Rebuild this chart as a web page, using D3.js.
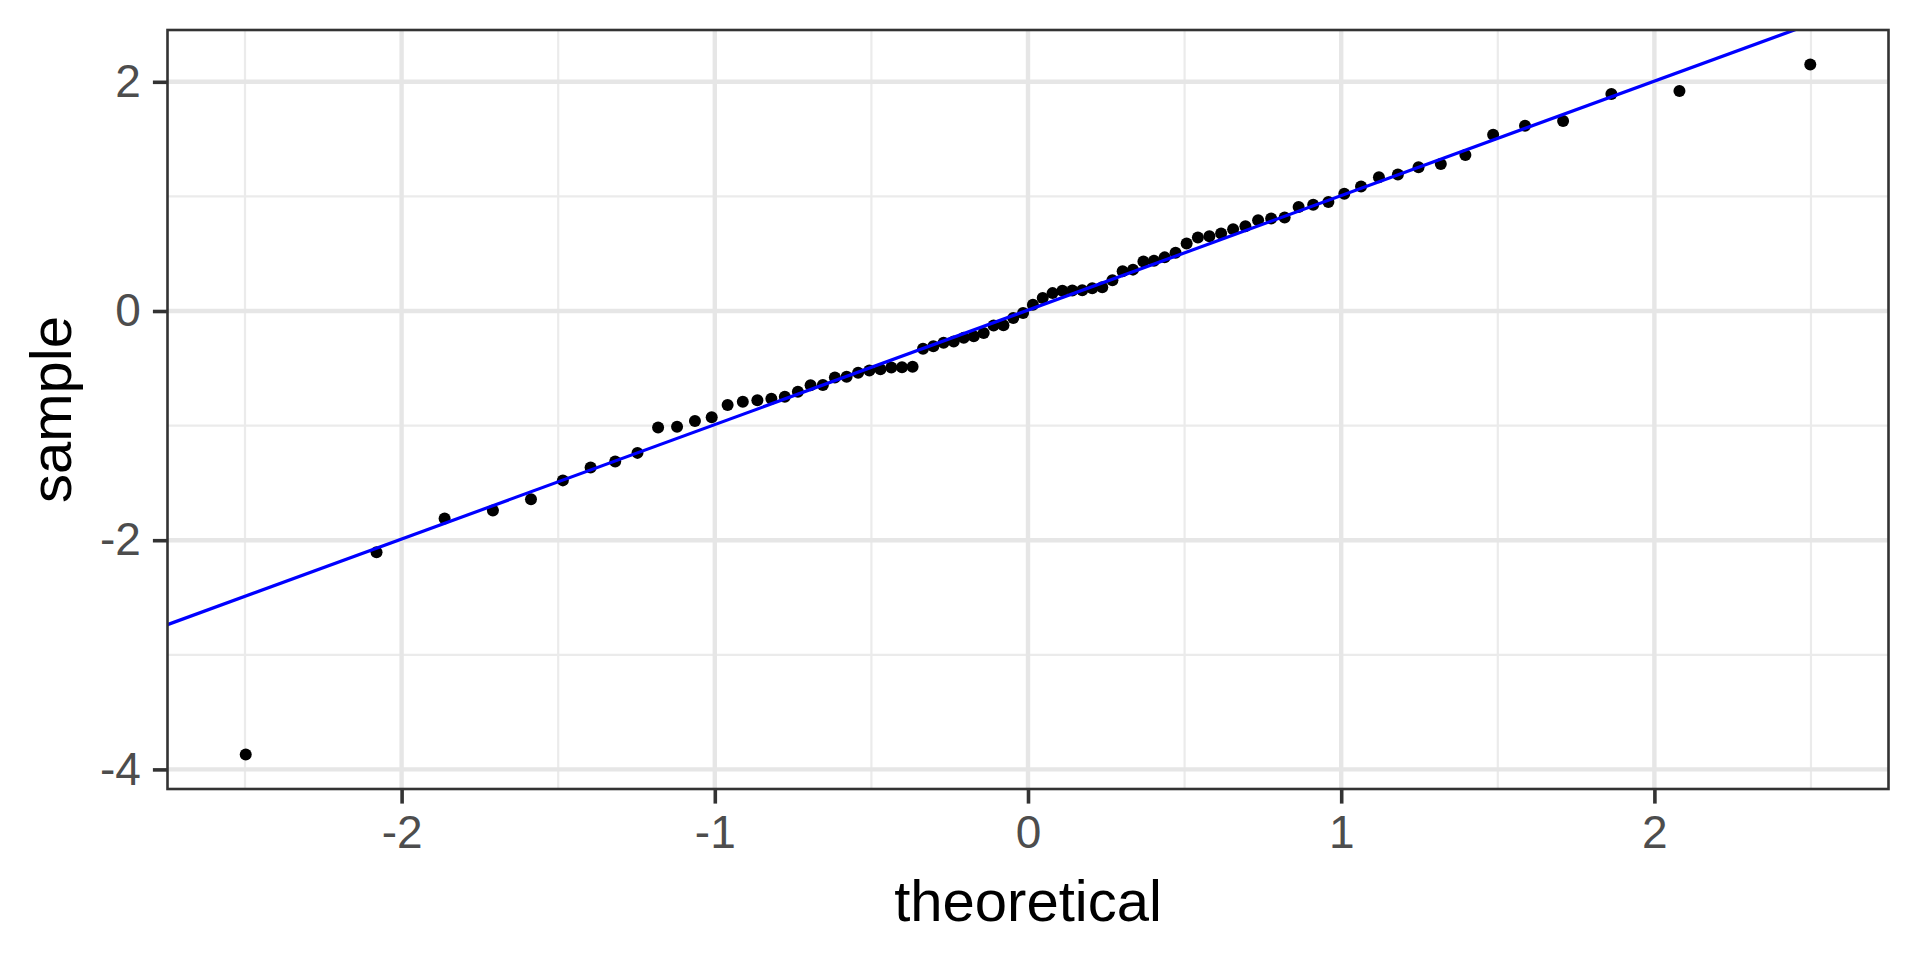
<!DOCTYPE html>
<html>
<head>
<meta charset="utf-8">
<script src="https://cdn.jsdelivr.net/npm/d3@7"></script>
<style>
  html, body { margin: 0; padding: 0; background: #ffffff; }
  svg { display: block; }
  text { font-family: "Liberation Sans", Arial, Helvetica, sans-serif; }
</style>
</head>
<body>
<svg id="chart" width="1920" height="960"></svg>
<script>
// ---- data ----
const theoretical = [-2.4977,-2.0800,-1.8627,-1.7085,-1.5869,-1.4851,-1.3965,-1.3180,-1.2469,-1.1810,
  -1.1205,-1.0634,-1.0099,-0.9591,-0.9106,-0.8641,-0.8194,-0.7764,-0.7347,-0.6942,
  -0.6549,-0.6166,-0.5791,-0.5424,-0.5065,-0.4712,-0.4364,-0.4023,-0.3685,-0.3352,
  -0.3022,-0.2695,-0.2371,-0.2051,-0.1732,-0.1415,-0.1098,-0.0784,-0.0470,-0.0157,
  0.0157,0.0470,0.0784,0.1098,0.1415,0.1732,0.2051,0.2371,0.2695,0.3022,
  0.3352,0.3685,0.4023,0.4364,0.4712,0.5065,0.5424,0.5791,0.6166,0.6549,
  0.6942,0.7347,0.7764,0.8194,0.8641,0.9106,0.9591,1.0099,1.0634,1.1205,
  1.1810,1.2469,1.3180,1.3965,1.4851,1.5869,1.7085,1.8627,2.0800,2.4977];
const sample = [-3.870,-2.105,-1.810,-1.740,-1.643,-1.478,-1.365,-1.313,-1.238,-1.016,
  -1.009,-0.960,-0.928,-0.821,-0.792,-0.778,-0.766,-0.749,-0.705,-0.648,
  -0.645,-0.581,-0.573,-0.538,-0.520,-0.509,-0.492,-0.490,-0.486,-0.330,
  -0.307,-0.278,-0.266,-0.234,-0.220,-0.191,-0.127,-0.125,-0.061,-0.017,
  0.055,0.113,0.156,0.176,0.179,0.182,0.199,0.208,0.268,0.346,
  0.361,0.432,0.439,0.468,0.508,0.590,0.642,0.653,0.676,0.714,
  0.740,0.792,0.807,0.815,0.907,0.928,0.951,1.023,1.087,1.167,
  1.191,1.254,1.283,1.362,1.538,1.616,1.659,1.893,1.919,2.151];
const lineIntercept = [0.008];
const lineSlope = [0.999];
const xTicks = [-2, -1, 0, 1, 2];
const xMinor = [-2.5, -1.5, -0.5, 0.5, 1.5, 2.5];
const yTicks = [-4, -2, 0, 2];
const yMinor = [-3, -1, 1];
const xTitle = "theoretical";
const yTitle = "sample";

// ---- layout ----
const panel = { left: 167.5, right: 1888.5, top: 30, bottom: 789 };
const svg = d3.select("#chart");

function expand(ext, m) { const r = ext[1] - ext[0]; return [ext[0] - r * m, ext[1] + r * m]; }
const x = d3.scaleLinear().domain(expand(d3.extent(theoretical), 0.05)).range([panel.left, panel.right]);
const y = d3.scaleLinear().domain(expand(d3.extent(sample), 0.05)).range([panel.bottom, panel.top]);

// panel background
svg.append("rect").attr("x", panel.left).attr("y", panel.top)
  .attr("width", panel.right - panel.left).attr("height", panel.bottom - panel.top)
  .attr("fill", "#ffffff");

const grid = svg.append("g");
// minor grid
grid.selectAll(".xmin").data(xMinor).enter().append("line")
  .attr("x1", d => x(d)).attr("x2", d => x(d)).attr("y1", panel.top).attr("y2", panel.bottom)
  .attr("stroke", "#ebebeb").attr("stroke-width", 2.2);
grid.selectAll(".ymin").data(yMinor).enter().append("line")
  .attr("y1", d => y(d)).attr("y2", d => y(d)).attr("x1", panel.left).attr("x2", panel.right)
  .attr("stroke", "#ebebeb").attr("stroke-width", 2.2);
// major grid
grid.selectAll(".xmaj").data(xTicks).enter().append("line")
  .attr("x1", d => x(d)).attr("x2", d => x(d)).attr("y1", panel.top).attr("y2", panel.bottom)
  .attr("stroke", "#e6e6e6").attr("stroke-width", 4.4);
grid.selectAll(".ymaj").data(yTicks).enter().append("line")
  .attr("y1", d => y(d)).attr("y2", d => y(d)).attr("x1", panel.left).attr("x2", panel.right)
  .attr("stroke", "#e6e6e6").attr("stroke-width", 4.4);

// clip for panel
svg.append("defs").append("clipPath").attr("id", "clip").append("rect")
  .attr("x", panel.left).attr("y", panel.top)
  .attr("width", panel.right - panel.left).attr("height", panel.bottom - panel.top);

// points
svg.append("g").selectAll("circle").data(d3.zip(theoretical, sample)).enter().append("circle")
  .attr("cx", d => x(d[0])).attr("cy", d => y(d[1])).attr("r", 6).attr("fill", "#000000");

// qq line
const xd = x.domain();
svg.append("line").attr("clip-path", "url(#clip)")
  .attr("x1", x(xd[0])).attr("y1", y(lineIntercept[0] + lineSlope[0] * xd[0]))
  .attr("x2", x(xd[1])).attr("y2", y(lineIntercept[0] + lineSlope[0] * xd[1]))
  .attr("stroke", "#0000ff").attr("stroke-width", 3.2);

// panel border
svg.append("rect").attr("x", panel.left).attr("y", panel.top)
  .attr("width", panel.right - panel.left).attr("height", panel.bottom - panel.top)
  .attr("fill", "none").attr("stroke", "#333333").attr("stroke-width", 2.6);

// axes
const tickLen = 14.6;
const xAxis = d3.axisBottom(x).tickValues(xTicks).tickFormat(d3.format("d")).tickSize(tickLen).tickPadding(12);
const gx = svg.append("g").attr("transform", `translate(0,${panel.bottom})`).call(xAxis);
gx.select(".domain").remove();
gx.selectAll(".tick line").attr("stroke", "#333333").attr("stroke-width", 3.6);
gx.selectAll(".tick text").attr("fill", "#4d4d4d").style("font-size", "46px")
  .text(d => String(d).replace("\u2212", "-"));

const yAxis = d3.axisLeft(y).tickValues(yTicks).tickFormat(d3.format("d")).tickSize(tickLen).tickPadding(12);
const gy = svg.append("g").attr("transform", `translate(${panel.left},0)`).call(yAxis);
gy.select(".domain").remove();
gy.selectAll(".tick line").attr("stroke", "#333333").attr("stroke-width", 3.6);
gy.selectAll(".tick text").attr("fill", "#4d4d4d").style("font-size", "46px")
  .text(d => String(d).replace("\u2212", "-"));

// titles
svg.append("text").attr("x", (panel.left + panel.right) / 2).attr("y", 921)
  .attr("text-anchor", "middle").attr("fill", "#000000").style("font-size", "58px").text(xTitle);
svg.append("text").attr("transform", `translate(71,${(panel.top + panel.bottom) / 2}) rotate(-90)`)
  .attr("text-anchor", "middle").attr("fill", "#000000").style("font-size", "58px").text(yTitle);
</script>
</body>
</html>
